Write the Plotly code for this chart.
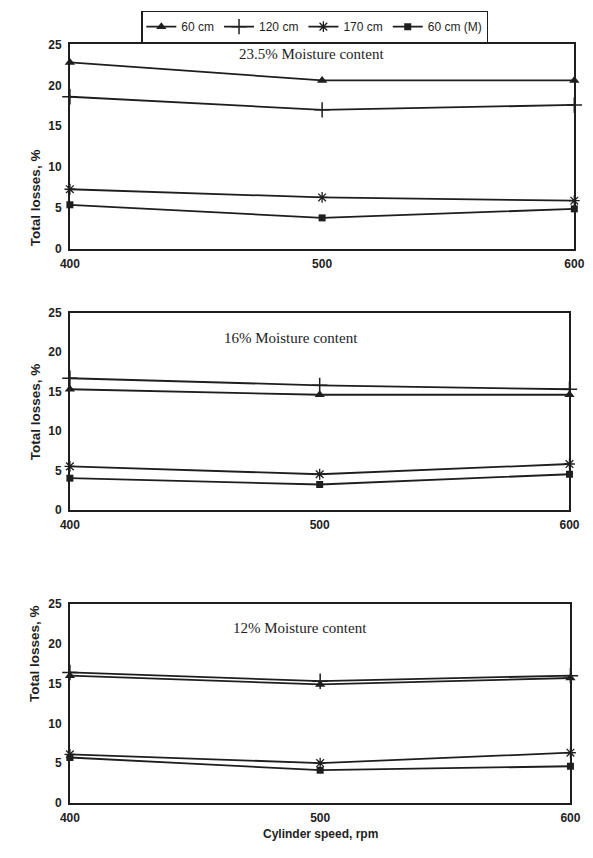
import plotly.graph_objects as go

# Cylinder speed (rpm) and total losses (%) for each moisture level
speeds = [400, 500, 600]

series_names = ["60 cm", "120 cm", "170 cm", "60 cm (M)"]

mc_235_60 = [22.8, 20.6, 20.6]
mc_235_120 = [18.6, 17.0, 17.6]
mc_235_170 = [7.3, 6.3, 5.9]
mc_235_60m = [5.4, 3.8, 4.9]

mc_16_60 = [15.3, 14.6, 14.6]
mc_16_120 = [16.7, 15.8, 15.3]
mc_16_170 = [5.5, 4.5, 5.8]
mc_16_60m = [4.0, 3.2, 4.5]

mc_12_60 = [16.0, 14.9, 15.7]
mc_12_120 = [16.4, 15.3, 16.0]
mc_12_170 = [6.1, 5.0, 6.3]
mc_12_60m = [5.7, 4.1, 4.6]

panel_titles = ["23.5% Moisture content", "16% Moisture content", "12% Moisture content"]
y_ticks = [0, 5, 10, 15, 20, 25]
x_ticks = [400, 500, 600]

panels = [
    [mc_235_60, mc_235_120, mc_235_170, mc_235_60m],
    [mc_16_60, mc_16_120, mc_16_170, mc_16_60m],
    [mc_12_60, mc_12_120, mc_12_170, mc_12_60m],
]

W, H = 593, 858
INK = "#1e1e1e"
SANS = "Liberation Sans"
SERIF = "Liberation Serif"

# pixel boxes of each panel: (left, right, top, bottom)
boxes = [(62, 584, 38, 246), (62, 579, 311, 511), (62, 580, 607, 809)]
# pixel centre of each panel heading
title_pos = [(312, 48), (291, 336), (300, 631)]

markers = [
    dict(symbol="triangle-up", size=9, color=INK),
    dict(symbol="cross-thin-open", size=11, color=INK, line=dict(width=1.5, color=INK)),
    dict(symbol="asterisk-open", size=9, color=INK, line=dict(width=1.3, color=INK)),
    dict(symbol="square", size=7, color=INK),
]

fig = go.Figure()
for p, data in enumerate(panels):
    ax = "" if p == 0 else str(p + 1)
    for s, vals in enumerate(data):
        fig.add_trace(go.Scatter(
            x=speeds, y=vals, mode="lines+markers",
            name=series_names[s], legendgroup=series_names[s],
            showlegend=(p == 0),
            line=dict(color=INK, width=1.8),
            marker=markers[s],
            xaxis="x" + ax, yaxis="y" + ax, cliponaxis=False,
        ))

tick_font = dict(family=SANS, size=12, color=INK, weight="bold")

layout = dict(
    width=W, height=H, margin=dict(l=0, r=0, t=0, b=0),
    paper_bgcolor="white", plot_bgcolor="white",
    showlegend=True,
    legend=dict(
        orientation="h", x=0.532, xanchor="center", y=1 - 4 / H, yanchor="top",
        bordercolor=INK, borderwidth=1.2, bgcolor="white",
        font=dict(family=SANS, size=12, color=INK),
        itemwidth=30, tracegroupgap=0,
    ),
    annotations=[],
)

for p, (l, r, t, b) in enumerate(boxes):
    ax = "" if p == 0 else str(p + 1)
    layout["xaxis" + ax] = dict(
        domain=[l / W, r / W], range=[400, 600], anchor="y" + ax,
        tickvals=x_ticks, ticks="", showgrid=False, zeroline=False,
        showline=True, linecolor=INK, linewidth=1.6, mirror=True,
        tickfont=tick_font, ticklabelstandoff=3,
    )
    layout["yaxis" + ax] = dict(
        domain=[1 - b / H, 1 - t / H], range=[0, 25], anchor="x" + ax,
        tickvals=y_ticks, ticks="", showgrid=False, zeroline=False,
        showline=True, linecolor=INK, linewidth=1.6, mirror=True,
        tickfont=tick_font, ticklabelstandoff=4,
    )
    layout["annotations"].append(dict(
        text="Total losses, %", textangle=-90, xref="paper", yref="paper",
        x=16 / W, y=1 - (t + b) / 2 / H, showarrow=False,
        font=dict(family=SANS, size=13.5, color=INK, weight="bold"),
    ))
    tx, ty = title_pos[p]
    layout["annotations"].append(dict(
        text=panel_titles[p], xref="paper", yref="paper",
        x=tx / W, y=1 - ty / H, showarrow=False,
        xanchor="center", yanchor="middle",
        font=dict(family=SERIF, size=15, color=INK),
    ))

layout["annotations"].append(dict(
    text="Cylinder speed, rpm", xref="paper", yref="paper",
    x=321 / W, y=1 - 850 / H, showarrow=False,
    font=dict(family=SANS, size=12, color=INK, weight="bold"),
))

fig.update_layout(**layout)
fig.write_html("out.html")
